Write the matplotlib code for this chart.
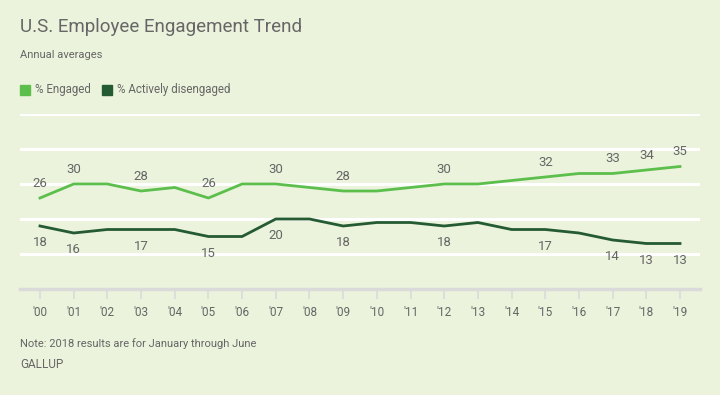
import matplotlib
matplotlib.use("Agg")
import matplotlib.pyplot as plt
import numpy as np

years = ["'00", "'01", "'02", "'03", "'04", "'05", "'06", "'07", "'08", "'09",
         "'10", "'11", "'12", "'13", "'14", "'15", "'16", "'17", "'18", "'19"]
engaged = [26, 30, 30, 28, 29, 26, 30, 30, 29, 28, 28, 29, 30, 30, 31, 32, 33, 33, 34, 35]
disengaged = [18, 16, 17, 17, 17, 15, 15, 20, 20, 18, 19, 19, 18, 19, 17, 17, 16, 14, 13, 13]
# years that get a value label
labelled = [0, 1, 3, 5, 7, 9, 12, 15, 17, 18, 19]

bg = '#ebf3dc'
green = '#5cbf4c'
dark = '#255b32'
grey = '#666666'

plt.rcParams['font.family'] = ['Roboto', 'DejaVu Sans']

fig = plt.figure(figsize=(7.2, 3.95), dpi=100, facecolor=bg)
ax = fig.add_axes([20/720, 1-289/395, 680/720, 175/395])
ax.set_facecolor(bg)

x = np.arange(len(years))
ax.set_ylim(0, 50)
ax.set_xlim(-20/33.68, 19 + 20/33.68)
for g in [10, 20, 30, 40, 50]:
    ax.axhline(g, color='white', lw=2.2, zorder=1)
ax.axhline(0, color='#dadada', lw=2.5, zorder=1, clip_on=False)

ax.plot(x, engaged, color=green, lw=2, zorder=3)
ax.plot(x, disengaged, color=dark, lw=2, zorder=3)

for i in labelled:
    ax.annotate(str(engaged[i]), (x[i], engaged[i]), xytext=(0, 10.5), textcoords='offset points',
                ha='center', va='center', fontsize=9.5, color=grey)
    ax.annotate(str(disengaged[i]), (x[i], disengaged[i]), xytext=(0, -12), textcoords='offset points',
                ha='center', va='center', fontsize=9.5, color=grey)

for s in ax.spines.values():
    s.set_visible(False)
ax.set_yticks([])
ax.set_xticks(x)
ax.set_xticklabels(years, fontsize=8.5, color=grey, family=['Liberation Sans Narrow', 'Roboto', 'DejaVu Sans'])
ax.tick_params(axis='x', length=7, width=1.2, color='#dadada', pad=5)

fig.text(20/720, 1-27/395, 'U.S. Employee Engagement Trend', fontsize=13.5, color=grey, va='center')
fig.text(20/720, 1-55/395, 'Annual averages', fontsize=8, color=grey, va='center')

# legend
fig.patches.append(plt.Rectangle((20/720, 1-95/395), 10/720, 10/395, transform=fig.transFigure,
                                 color=green, figure=fig))
fig.text(35/720, 1-90/395, '% Engaged', fontsize=8.3, color=grey, va='center')
fig.patches.append(plt.Rectangle((102/720, 1-95/395), 10/720, 10/395, transform=fig.transFigure,
                                 color=dark, figure=fig))
fig.text(117/720, 1-90/395, '% Actively disengaged', fontsize=8.3, color=grey, va='center')

fig.text(20/720, 1-344/395, 'Note: 2018 results are for January through June', fontsize=8, color=grey,
         va='center', family=['Liberation Sans Narrow', 'Roboto', 'DejaVu Sans'])
fig.text(20/720, 1-365/395, 'GALLUP', fontsize=8.5, color=grey, va='center')

fig.savefig('out.png', dpi=100, facecolor=bg)
